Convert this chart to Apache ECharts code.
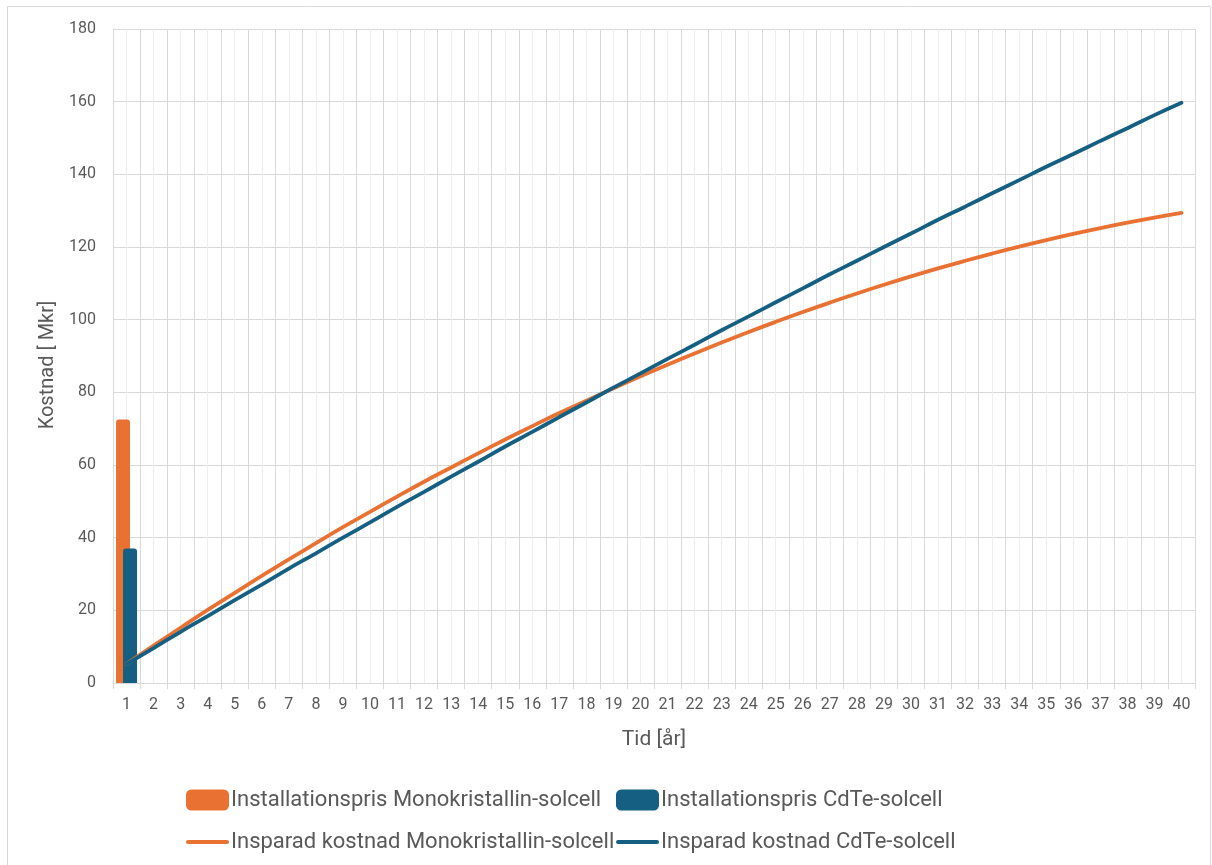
<!DOCTYPE html>
<html>
<head>
<meta charset="utf-8">
<script src="https://cdn.jsdelivr.net/npm/echarts@6/dist/echarts.min.js"></script>
<style>
html,body{margin:0;padding:0;background:#fff;}
#chart{width:1212px;height:865px;}
</style>
</head>
<body>
<div id="chart"></div>
<script>
const years = ['1','2','3','4','5','6','7','8','9','10','11','12','13','14','15','16','17','18','19','20',
  '21','22','23','24','25','26','27','28','29','30','31','32','33','34','35','36','37','38','39','40'];
const installMono = [72.5];
const installCdTe = [37];
const savedMono = [5.2,10.3,15.2,20.1,24.8,29.5,34.0,38.5,42.9,47.1,51.3,55.4,59.3,63.2,67.0,70.7,74.3,77.7,81.1,84.4,
  87.6,90.7,93.7,96.6,99.4,102.1,104.7,107.2,109.6,111.9,114.1,116.2,118.2,120.1,121.9,123.6,125.2,126.7,128.1,129.4];
const savedCdTe = [5.2,9.6,14.1,18.4,22.8,27.1,31.5,35.7,40.0,44.2,48.5,52.6,56.8,60.9,65.1,69.1,73.2,77.2,81.3,85.2,
  89.2,93.1,97.1,100.9,104.8,108.6,112.5,116.2,120.0,123.7,127.5,131.1,134.8,138.4,142.1,145.6,149.2,152.7,156.3,159.7];
const yTicks = {min: 0, max: 180, interval: 20};
const names = ['Installationspris Monokristallin-solcell','Installationspris CdTe-solcell',
  'Insparad kostnad Monokristallin-solcell','Insparad kostnad CdTe-solcell'];

const ORANGE = '#E97132', BLUE = '#156082', TXT = '#595959';
const FONT = 'Roboto';
const LINE_ICON = 'path://M2,0 H41 A2,2 0 0 1 41,4 H2 A2,2 0 0 1 2,0 Z';
const chart = echarts.init(document.getElementById('chart'), null, {renderer: 'canvas'});
const legendBase = {
  itemWidth: 43, itemHeight: 21, itemGap: 0, padding: 0,
  textStyle: {color: TXT, fontSize: 22, fontFamily: FONT, padding: [0,0,0,-3]},
  selectedMode: false
};
chart.setOption({
  backgroundColor: '#fff',
  animation: false,
  graphic: [{type: 'rect', shape: {x: 7.5, y: 6.5, width: 1203, height: 900},
    style: {fill: 'none', stroke: '#d9d9d9', lineWidth: 1}, silent: true, z: -10}],
  grid: {left: 113, right: 17, top: 29, bottom: 182, containLabel: false},
  legend: [
    Object.assign({}, legendBase, {left: 186, top: 789, data: [{name: names[0], icon: 'roundRect'}]}),
    Object.assign({}, legendBase, {left: 616, top: 789, data: [{name: names[1], icon: 'roundRect'}]}),
    Object.assign({}, legendBase, {left: 186, top: 831, data: [{name: names[2], icon: LINE_ICON}]}),
    Object.assign({}, legendBase, {left: 616, top: 831, data: [{name: names[3], icon: LINE_ICON}]})
  ],
  xAxis: [{
    type: 'category', data: years, boundaryGap: true,
    name: 'Tid [år]', nameLocation: 'middle', nameGap: 46,
    nameTextStyle: {color: TXT, fontSize: 21, fontFamily: FONT},
    axisLine: {lineStyle: {color: '#d9d9d9', width: 1}},
    axisTick: {show: true, interval: 0, length: 6, lineStyle: {color: '#d9d9d9'}},
    axisLabel: {interval: 0, color: TXT, fontSize: 16, fontFamily: FONT, margin: 14},
    splitLine: {show: false}
  }, {
    type: 'value', min: 0, max: 80, interval: 1, position: 'top',
    axisLine: {show: false}, axisTick: {show: false}, axisLabel: {show: false},
    splitLine: {show: true, lineStyle: {color: ['#d9d9d9', '#eeeeee'], width: 1}}
  }],
  yAxis: {
    type: 'value', min: yTicks.min, max: yTicks.max, interval: yTicks.interval,
    name: 'Kostnad [ Mkr]', nameLocation: 'middle', nameGap: 55,
    nameTextStyle: {color: TXT, fontSize: 20, fontFamily: FONT, padding: [0,18,0,0]},
    axisLine: {show: false}, axisTick: {show: false},
    axisLabel: {color: TXT, fontSize: 16, fontFamily: FONT, margin: 17},
    splitLine: {lineStyle: {color: '#d9d9d9', width: 1}}
  },
  series: [
    {name: names[0], type: 'bar', data: installMono, barWidth: 14, barGap: '-50%',
      itemStyle: {color: ORANGE, borderRadius: [3,3,0,0]}, z: 2},
    {name: names[1], type: 'bar', data: installCdTe, barWidth: 14, barGap: '-50%',
      itemStyle: {color: BLUE, borderRadius: [3,3,0,0]}, z: 3},
    {name: names[2], type: 'line', data: savedMono, smooth: true, symbol: 'none',
      lineStyle: {color: ORANGE, width: 3.8, cap: 'round'}, itemStyle: {color: ORANGE}, z: 4},
    {name: names[3], type: 'line', data: savedCdTe, smooth: true, symbol: 'none',
      lineStyle: {color: BLUE, width: 3.8, cap: 'round'}, itemStyle: {color: BLUE}, z: 5}
  ]
});
</script>
</body>
</html>
